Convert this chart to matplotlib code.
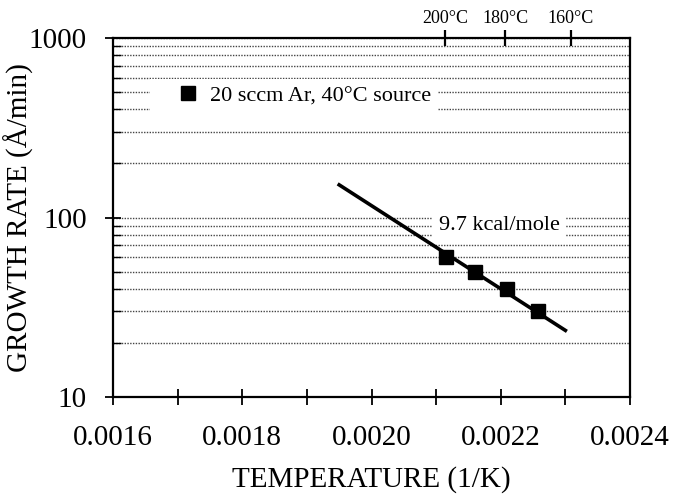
import matplotlib
matplotlib.use("Agg")
import matplotlib.pyplot as plt
import numpy as np
from matplotlib.ticker import FixedLocator, NullFormatter, LogLocator

# Data
inv_T = [0.002115, 0.002160, 0.002209, 0.002257]
growth_rate = [60, 50, 40, 30]
fit_x = [0.00195, 0.00230]
fit_y = [152, 23.5]
x_ticks = [0.0016, 0.0018, 0.0020, 0.0022, 0.0024]
x_ticklabels = ["0.0016", "0.0018", "0.0020", "0.0022", "0.0024"]
top_temps_C = [200, 180, 160]
top_labels = ["200°C", "180°C", "160°C"]
y_ticks = [10, 100, 1000]
y_ticklabels = ["10", "100", "1000"]

plt.rcParams['font.family'] = ['Liberation Serif', 'DejaVu Serif']

fig = plt.figure(figsize=(6.76, 4.98), dpi=100)
ax = fig.add_axes([113/676, 1-397/498, (630-113)/676, (397-38)/498])

ax.set_yscale('log')
ax.set_xlim(0.0016, 0.0024)
ax.set_ylim(10, 1000)

ax.yaxis.set_major_locator(FixedLocator(y_ticks))
ax.yaxis.set_minor_locator(LogLocator(base=10, subs=np.arange(2, 10)))
ax.yaxis.set_minor_formatter(NullFormatter())
ax.set_yticklabels(y_ticklabels)
ax.grid(True, which='both', axis='y', color='#444444', linestyle=(0, (1, 1)), linewidth=1.0)
ax.set_axisbelow(True)

ax.set_xticks(x_ticks)
ax.set_xticklabels(x_ticklabels)
ax.xaxis.set_minor_locator(FixedLocator(np.arange(0.0016, 0.00241, 0.0001)))

ax.tick_params(axis='x', which='major', direction='inout', length=12, width=1.3, labelsize=21, pad=14)
ax.tick_params(axis='x', which='minor', direction='inout', length=12, width=1.3)
ax.tick_params(axis='y', which='major', direction='inout', length=12, width=1.3, labelsize=21, pad=13)
ax.tick_params(axis='y', which='minor', direction='in', length=6, width=1.0)

for s in ax.spines.values():
    s.set_linewidth(1.6)
    s.set_color('black')

ax.plot(fit_x, fit_y, color='black', linewidth=2.6, zorder=3)
ax.plot(inv_T, growth_rate, linestyle='none', marker='s', markersize=10,
        color='black', zorder=4, label='20 sccm Ar, 40°C source')

leg = ax.legend(loc='upper left', bbox_to_anchor=(0.0716, 0.886), frameon=True,
                fontsize=16, handlelength=2.8, handletextpad=-0.4,
                borderpad=0.3, borderaxespad=0, fancybox=False)
leg.get_frame().set_facecolor('white')
leg.get_frame().set_edgecolor('none')
leg.get_frame().set_alpha(1)
leg.set_zorder(5)

ax.text(0.0021973, 90.3, '9.7 kcal/mole', fontsize=16, ha='center', va='center',
        bbox=dict(facecolor='white', edgecolor='none', pad=5), zorder=5)

ax.set_xlabel('TEMPERATURE (1/K)', fontsize=21, labelpad=11)
ax.set_ylabel('GROWTH RATE (Å/min)', fontsize=21, labelpad=-4)

ax2 = ax.twiny()
ax2.set_xlim(ax.get_xlim())
ax2.set_xticks([1.0 / (t + 273.15) for t in top_temps_C])
ax2.set_xticklabels(top_labels)
ax2.tick_params(axis='x', direction='inout', length=12, width=1.6, labelsize=13, pad=2)
for s in ax2.spines.values():
    s.set_visible(False)

fig.savefig('out.png', dpi=100)
